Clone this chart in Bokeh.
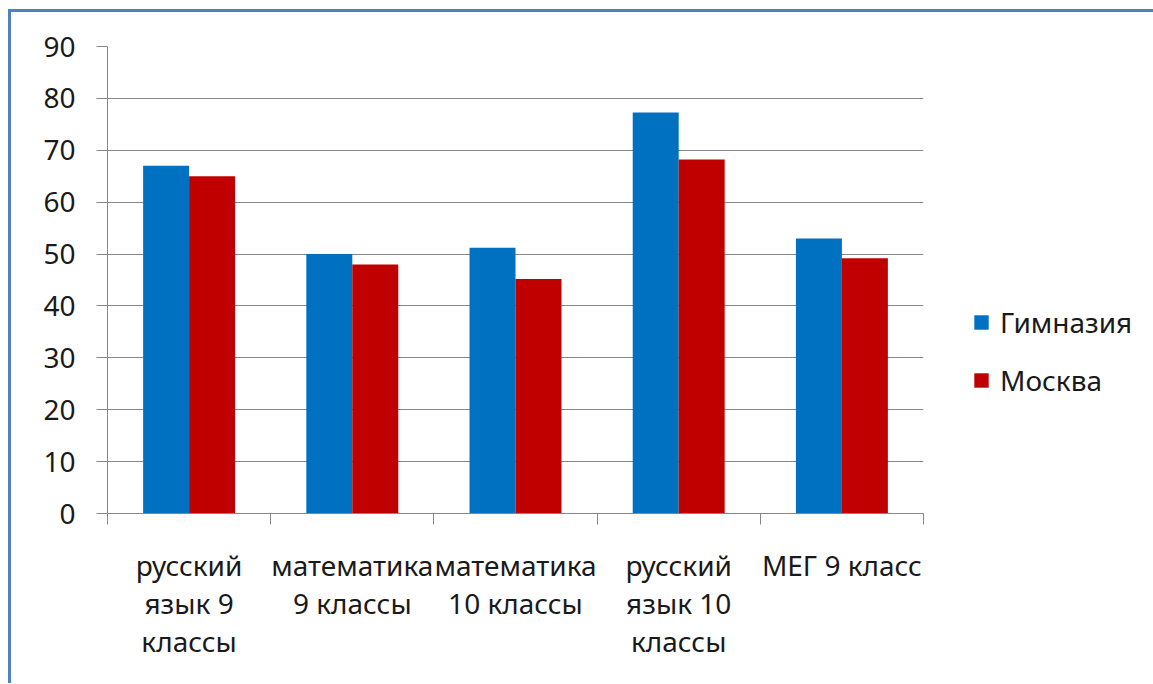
import numpy as np
from bokeh.plotting import figure
from bokeh.models import (ColumnDataSource, Range1d, FixedTicker, Legend, LegendItem)
from bokeh.embed import file_html
from bokeh.resources import INLINE

categories = ["русский язык 9 классы", "математика 9 классы", "математика 10 классы",
              "русский язык 10 классы", "МЕГ 9 класс"]
tick_labels = ["русский\nязык 9\nклассы", "математика\n9 классы", "математика\n10 классы",
               "русский\nязык 10\nклассы", "МЕГ 9 класс"]
series_names = ["Гимназия", "Москва"]
gymnasium = [67, 50, 51.2, 77.3, 53]
moscow = [65, 48, 45.2, 68.2, 49.2]
y_ticks = [0, 10, 20, 30, 40, 50, 60, 70, 80, 90]

FONT = "Noto Sans"
GRAY = "#868686"
BLUE = "#0070C0"
RED = "#C00000"

idx = np.arange(len(categories))
bar_w = 0.2817
src = ColumnDataSource(dict(
    xb=idx + 0.5 - bar_w / 2,
    xr=idx + 0.5 + bar_w / 2,
    g=gymnasium,
    m=moscow,
))

p = figure(frame_width=816, frame_height=467, output_backend="svg", toolbar_location=None,
           x_range=Range1d(0, len(categories)), y_range=Range1d(0, 90),
           min_border_left=96, min_border_right=229, min_border_top=34, min_border_bottom=170)
p.styles = {"border-top": "3px solid #4F81BD", "border-left": "3px solid #4F81BD",
            "margin-left": "8px", "margin-top": "9px"}
p.background_fill_color = "white"
p.border_fill_color = "white"
p.outline_line_color = None

rb = p.vbar(x="xb", top="g", width=bar_w, source=src, fill_color=BLUE, line_color=None)
rr = p.vbar(x="xr", top="m", width=bar_w, source=src, fill_color=RED, line_color=None)

# y axis
ya = p.yaxis[0]
ya.ticker = FixedTicker(ticks=y_ticks)
ya.axis_line_color = GRAY
ya.major_tick_line_color = GRAY
ya.major_tick_out = 11
ya.major_tick_in = 0
ya.minor_tick_line_color = None
ya.major_label_text_font = FONT
ya.major_label_text_font_size = "28px"
ya.major_label_text_color = "#1a1a1a"
ya.major_label_standoff = 21

p.ygrid[0].ticker = FixedTicker(ticks=y_ticks)
p.ygrid[0].grid_line_color = GRAY
p.xgrid[0].grid_line_color = None

# x axis: labels at centres, tick marks at category boundaries
xa = p.xaxis[0]
xa.ticker = FixedTicker(ticks=list(idx + 0.5), minor_ticks=list(range(len(categories) + 1)))
xa.major_label_overrides = {float(i + 0.5): t for i, t in enumerate(tick_labels)}
xa.axis_line_color = GRAY
xa.major_tick_line_color = None
xa.major_tick_out = 0
xa.major_tick_in = 0
xa.minor_tick_line_color = GRAY
xa.minor_tick_out = 11
xa.minor_tick_in = 0
xa.major_label_text_font = FONT
xa.major_label_text_font_size = "28px"
xa.major_label_text_color = "#1a1a1a"
xa.major_label_text_line_height = 1.0
xa.major_label_standoff = 21

legend = Legend(items=[LegendItem(label=series_names[0], renderers=[rb]),
                       LegendItem(label=series_names[1], renderers=[rr])],
                location=(49, 114))
legend.glyph_width = 18
legend.glyph_height = 18
legend.label_height = 30
legend.spacing = 20
legend.label_standoff = 10
legend.padding = 10
legend.margin = 0
legend.border_line_color = None
legend.background_fill_alpha = 0
legend.label_text_font = FONT
legend.label_text_font_size = "28px"
legend.label_text_color = "#1a1a1a"
p.add_layout(legend, "right")

open("out.html", "w").write(file_html(p, INLINE))
